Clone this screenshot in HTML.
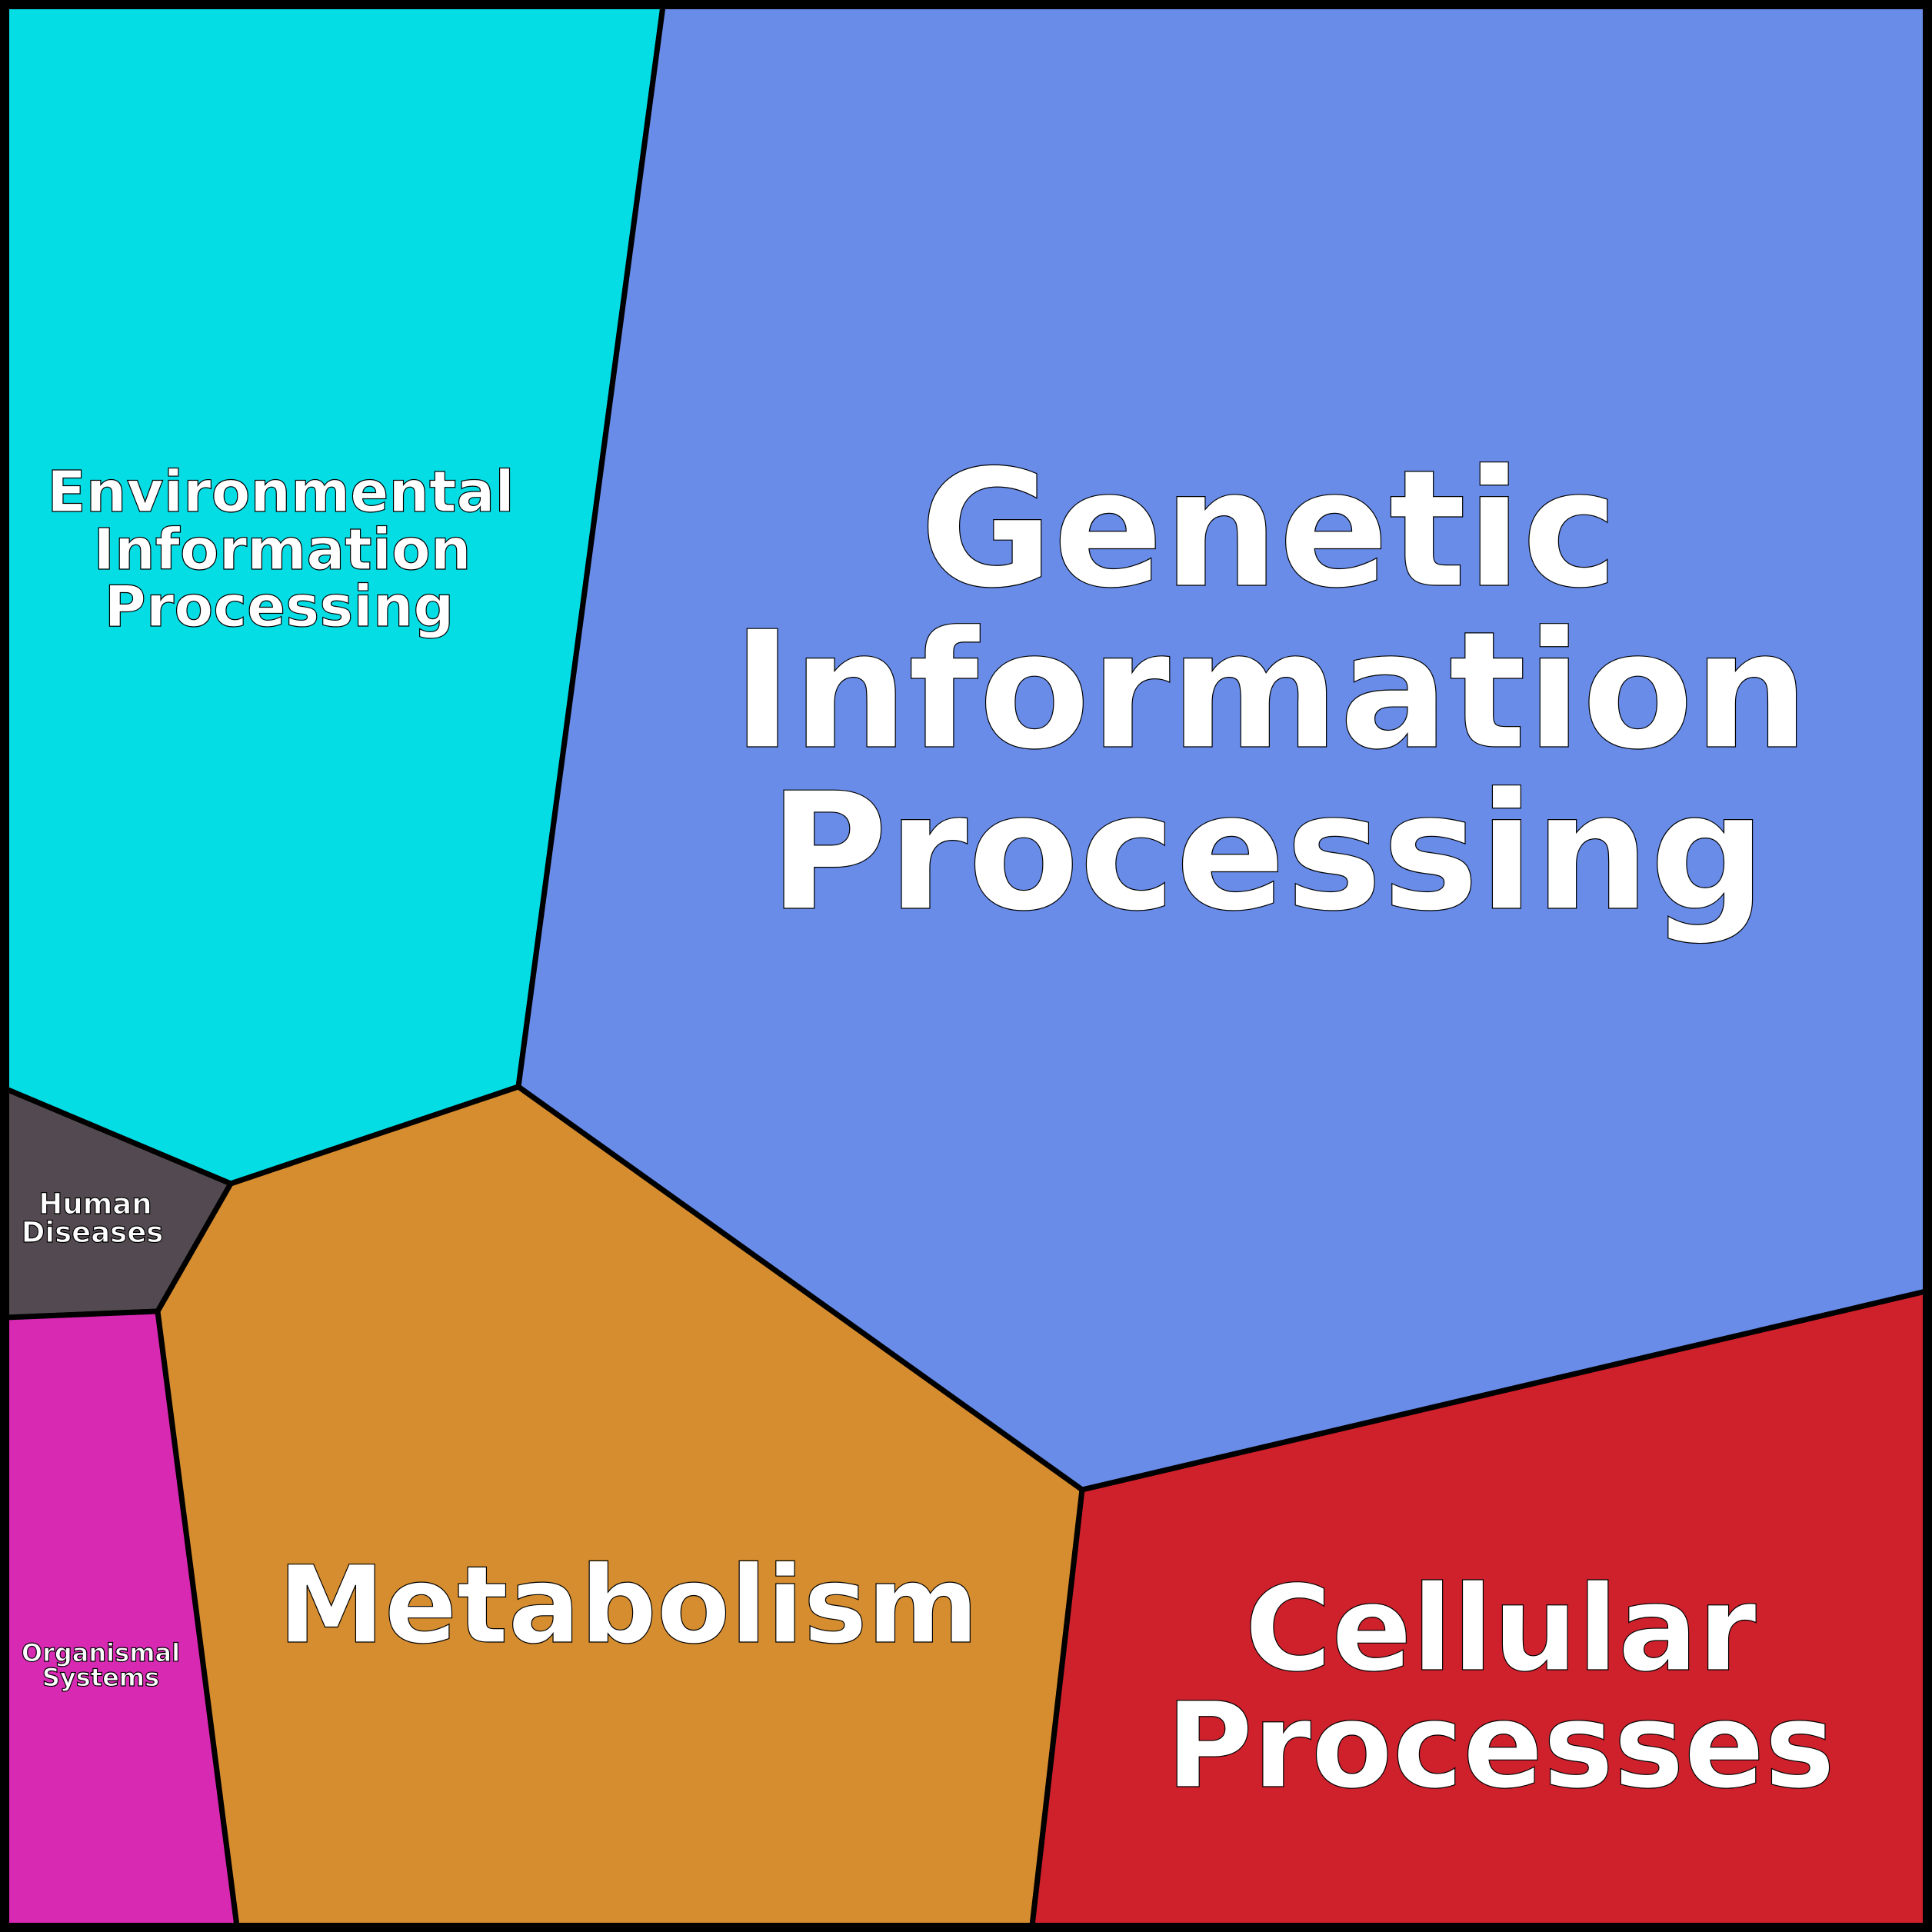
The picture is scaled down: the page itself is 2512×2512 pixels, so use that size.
<!DOCTYPE html>
<html><head><meta charset="utf-8"><style>
html,body{margin:0;padding:0;background:#fff;}
svg{display:block;}
text{font-family:"DejaVu Sans","Liberation Sans",sans-serif;font-weight:bold;fill:#fff;stroke:#000;stroke-width:1.2;text-anchor:middle;}
</style></head><body>
<svg width="2512" height="2512" viewBox="0 0 2512 2512" xmlns="http://www.w3.org/2000/svg">
<g stroke="#000" stroke-width="7" stroke-linejoin="round">
<polygon points="8,8 862,8 674,1413 300,1539 8,1416" fill="#05dde5"/>
<polygon points="862,8 2504,8 2504,1679 1407,1937 674,1413" fill="#688ce8"/>
<polygon points="8,1416 300,1539 205,1705 8,1713" fill="#524a50"/>
<polygon points="8,1713 205,1705 308,2504 8,2504" fill="#d829b3"/>
<polygon points="300,1539 674,1413 1407,1937 1342,2504 308,2504 205,1705" fill="#d58d2f"/>
<polygon points="1407,1937 2504,1679 2504,2504 1342,2504" fill="#cf212c"/>
</g>
<rect x="6" y="6" width="2500" height="2500" fill="none" stroke="#000" stroke-width="12"/>
<g font-size="211" stroke-width="1.5">
<text x="1650" y="761">Genetic</text>
<text x="1652" y="971">Information</text>
<text x="1648" y="1181">Processing</text>
</g>
<g font-size="74">
<text x="365" y="665">Environmental</text>
<text x="367" y="740">Information</text>
<text x="363" y="814">Processing</text>
</g>
<g font-size="37" stroke-width="0.8">
<text x="124" y="1578">Human</text>
<text x="120" y="1615">Diseases</text>
</g>
<g font-size="32" stroke-width="0.7">
<text x="131" y="2160">Organismal</text>
<text x="131" y="2192">Systems</text>
</g>
<text x="817" y="2135" font-size="139" stroke-width="1.5">Metabolism</text>
<g font-size="154" stroke-width="1.5">
<text x="1951" y="2171">Cellular</text>
<text x="1951" y="2323">Processes</text>
</g>
</svg>
</body></html>
